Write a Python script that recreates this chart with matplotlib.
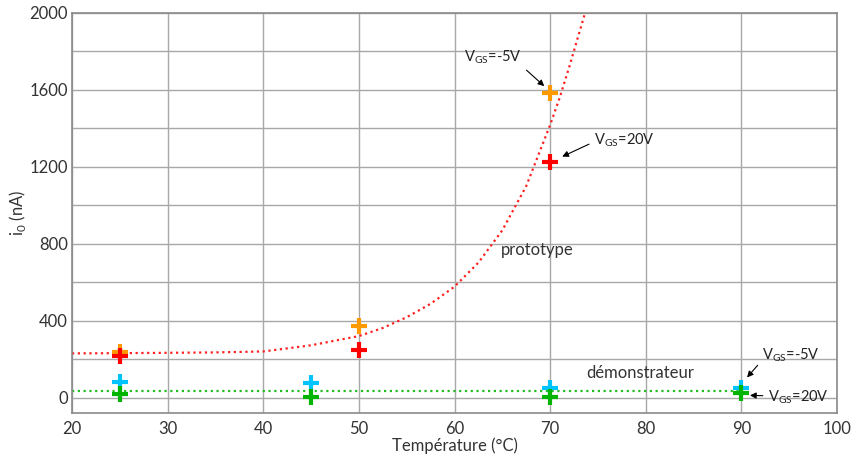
import matplotlib
matplotlib.use('Agg')
import matplotlib.pyplot as plt

plt.rcParams['font.family'] = ['Lato', 'DejaVu Sans']

# mesures (nA)
temp_proto = [25, 50, 70]
proto_m5 = [235, 370, 1585]
proto_20 = [215, 245, 1225]

temp_demo = [25, 45, 70, 90]
demo_m5 = [80, 75, 50, 50]
demo_20 = [20, 5, 5, 25]

# tendances
tend_proto_x = [20, 25, 30, 35, 40, 45, 50, 52.5, 55, 57.5, 60, 62.5, 65, 67.5, 70, 71, 72, 73, 73.65]
tend_proto_y = [230, 231, 233, 235, 240, 272, 320, 362, 418, 488, 577, 702, 870, 1100, 1418, 1560, 1720, 1890, 2000]
tend_demo_x = [20, 90]
tend_demo_y = [33, 33]

fig = plt.figure(figsize=(8.53, 4.57), dpi=100)
ax = fig.add_axes([0.0844, 0.0963, 0.8969, 0.8753])

ax.plot(tend_proto_x, tend_proto_y, color='#ff2020', lw=1.6, linestyle=(0, (1, 1.6)))
ax.plot(tend_demo_x, tend_demo_y, color='#20c020', lw=1.6, linestyle=(0, (1, 1.6)))

mk = dict(marker='+', linestyle='none', markersize=11, markeredgewidth=3)
ax.plot(temp_proto, proto_m5, color='#ff9900', **mk)
ax.plot(temp_proto, proto_20, color='#ff0000', **mk)
ax.plot(temp_demo, demo_m5, color='#00c4ff', **mk)
ax.plot(temp_demo, demo_20, color='#00b400', **mk)

ax.set_xlim(20, 100)
ax.set_ylim(-80, 2000)
ax.set_xticks(range(20, 101, 10))
ax.set_yticks(range(0, 2001, 400))
ax.set_yticks(range(200, 2000, 400), minor=True)
ax.grid(True, which='both', color='#a8a8a8', lw=1)
ax.set_axisbelow(True)
ax.tick_params(which='both', length=0, labelsize=12, colors='#333333', pad=6)
ax.tick_params(axis='y', pad=3)
for s in ax.spines.values():
    s.set_color('#8a8a8a')
    s.set_linewidth(1.2)

ax.set_xlabel('Température (°C)', fontsize=12, color='#333333', labelpad=0)
ax.set_ylabel('i$_\\mathregular{0}$ (nA)', fontsize=12, color='#333333')
ax.yaxis.set_label_coords(-0.057, 0.5)

ap = dict(arrowstyle='-|>', color='black', lw=0.8, mutation_scale=9)
tk = dict(fontsize=10.5, color='#222222', ha='center', va='center')
ax.annotate('V$_\\mathregular{GS}$=-5V', xy=(69.6, 1610), xytext=(64.0, 1771),
            arrowprops=dict(ap, relpos=(1.0, 0.0)), **tk)
ax.annotate('V$_\\mathregular{GS}$=20V', xy=(71.0, 1247), xytext=(77.8, 1340),
            arrowprops=dict(ap, relpos=(0.0, 0.4)), **tk)
ax.annotate('V$_\\mathregular{GS}$=-5V', xy=(90.4, 94), xytext=(95.2, 223),
            arrowprops=dict(ap, relpos=(0.0, 0.2)), **tk)
ax.annotate('V$_\\mathregular{GS}$=20V', xy=(90.6, 12), xytext=(96.0, 0),
            arrowprops=dict(ap, relpos=(0.0, 0.6)), **tk)

ax.text(68.7, 769, 'prototype', fontsize=12, color='#333333', ha='center', va='center')
ax.text(79.4, 130, 'démonstrateur', fontsize=12, color='#333333', ha='center', va='center')

fig.savefig('out.png', dpi=100)
